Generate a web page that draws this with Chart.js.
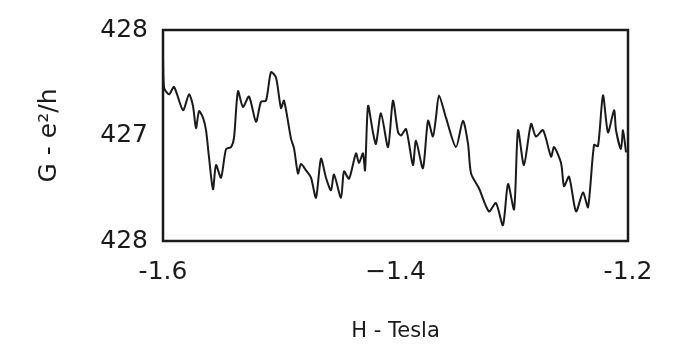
<!DOCTYPE html>
<html>
<head>
<meta charset="utf-8">
<script src="https://cdn.jsdelivr.net/npm/chart.js@4/dist/chart.umd.min.js"></script>
<style>
  html, body { margin: 0; padding: 0; background: #fff; }
  #wrap { width: 690px; height: 353px; position: relative; }
</style>
</head>
<body>
<div id="wrap"><canvas id="chart"></canvas></div>
<script>
// Magnetic field (Tesla) and conductance
const fieldH = [
  -1.6000, -1.5990, -1.5948, -1.5905, -1.5828, -1.5776, -1.5742, -1.5716, -1.5690, -1.5656,
  -1.5630, -1.5604, -1.5570, -1.5544, -1.5501, -1.5458, -1.5415, -1.5389, -1.5355, -1.5312,
  -1.5260, -1.5200, -1.5157, -1.5114, -1.5071, -1.5028, -1.4985, -1.4959, -1.4899, -1.4873,
  -1.4839, -1.4813, -1.4770, -1.4727, -1.4684, -1.4641, -1.4598, -1.4555, -1.4529, -1.4469,
  -1.4443, -1.4400, -1.4340, -1.4314, -1.4280, -1.4262, -1.4236, -1.4194, -1.4168, -1.4125,
  -1.4064, -1.4022, -1.3978, -1.3952, -1.3909, -1.3850, -1.3824, -1.3764, -1.3720, -1.3678,
  -1.3652, -1.3626, -1.3566, -1.3480, -1.3420, -1.3376, -1.3350, -1.3282, -1.3196, -1.3136,
  -1.3076, -1.3032, -1.2980, -1.2946, -1.2895, -1.2834, -1.2792, -1.2731, -1.2662, -1.2636,
  -1.2576, -1.2550, -1.2507, -1.2447, -1.2387, -1.2344, -1.2292, -1.2258, -1.2215, -1.2172,
  -1.2120, -1.2103, -1.2060, -1.2043, -1.2017
];
const conductance = [
  427.73, 427.45, 427.39, 427.46, 427.24, 427.39, 427.28, 427.07, 427.23, 427.17,
  427.05, 426.79, 426.49, 426.72, 426.60, 426.87, 426.89, 426.98, 427.42, 427.27,
  427.37, 427.13, 427.32, 427.33, 427.60, 427.55, 427.26, 427.33, 426.97, 426.88,
  426.64, 426.73, 426.67, 426.60, 426.41, 426.78, 426.60, 426.48, 426.63, 426.41,
  426.66, 426.59, 426.83, 426.74, 426.83, 426.67, 427.28, 427.03, 426.92, 427.21,
  426.89, 427.33, 427.03, 427.00, 427.06, 426.72, 426.95, 426.69, 427.14, 426.99,
  427.17, 427.38, 427.17, 426.89, 427.14, 426.92, 426.64, 426.50, 426.28, 426.36,
  426.15, 426.54, 426.30, 427.05, 426.72, 427.11, 426.99, 427.05, 426.80, 426.89,
  426.74, 426.52, 426.61, 426.28, 426.46, 426.32, 426.91, 426.90, 427.38, 427.03,
  427.24, 427.05, 426.87, 427.05, 426.84
];

// Tick labels as printed on the figure (bottom to top for y)
const yTickLabels = ['428', '427', '428'];
const xTickLabels = ['-1.6', '\u22121.4', '-1.2'];

const ink = '#1a1a1a';
const fontFamily = '"DejaVu Sans", Arial, sans-serif';

// draws the frame around the plot area
const framePlugin = {
  id: 'frame',
  afterDraw(chart) {
    const { ctx, chartArea: a } = chart;
    ctx.save();
    ctx.strokeStyle = ink;
    ctx.lineWidth = 2.5;
    ctx.strokeRect(a.left, a.top, a.right - a.left, a.bottom - a.top);
    ctx.restore();
  }
};

const points = fieldH.map((h, i) => ({ x: h, y: conductance[i] }));

new Chart(document.getElementById('chart'), {
  type: 'line',
  data: {
    datasets: [{
      data: points,
      borderColor: ink,
      borderWidth: 2,
      pointRadius: 0,
      tension: 0.25,
      fill: false
    }]
  },
  options: {
    responsive: true,
    maintainAspectRatio: false,
    animation: false,
    layout: { padding: { top: 20, right: 62, left: 0, bottom: 0 } },
    plugins: {
      legend: { display: false },
      tooltip: { enabled: false }
    },
    scales: {
      x: {
        type: 'linear',
        min: -1.6,
        max: -1.2,
        grid: { display: false, drawTicks: false },
        border: { display: false },
        ticks: {
          stepSize: 0.2,
          padding: 16,
          color: ink,
          font: { family: fontFamily, size: 25 },
          maxRotation: 0,
          callback: (v, i) => xTickLabels[i]
        },
        title: {
          display: true,
          text: 'H - Tesla',
          color: ink,
          font: { family: fontFamily, size: 21 },
          padding: { top: 0, bottom: 9 }
        },
        afterFit(scale) { scale.height = 112; }
      },
      y: {
        type: 'linear',
        min: 426,
        max: 428,
        grid: { display: false, drawTicks: false },
        border: { display: false },
        ticks: {
          stepSize: 1,
          padding: 15,
          color: ink,
          font: { family: fontFamily, size: 25 },
          callback: (v, i) => yTickLabels[i]
        },
        title: {
          display: true,
          text: 'G - e\u00b2/h',
          color: ink,
          font: { family: fontFamily, size: 25 },
          padding: { top: 34, bottom: 0 }
        },
        afterFit(scale) { scale.width = 163; }
      }
    }
  },
  plugins: [framePlugin]
});
</script>
</body>
</html>
